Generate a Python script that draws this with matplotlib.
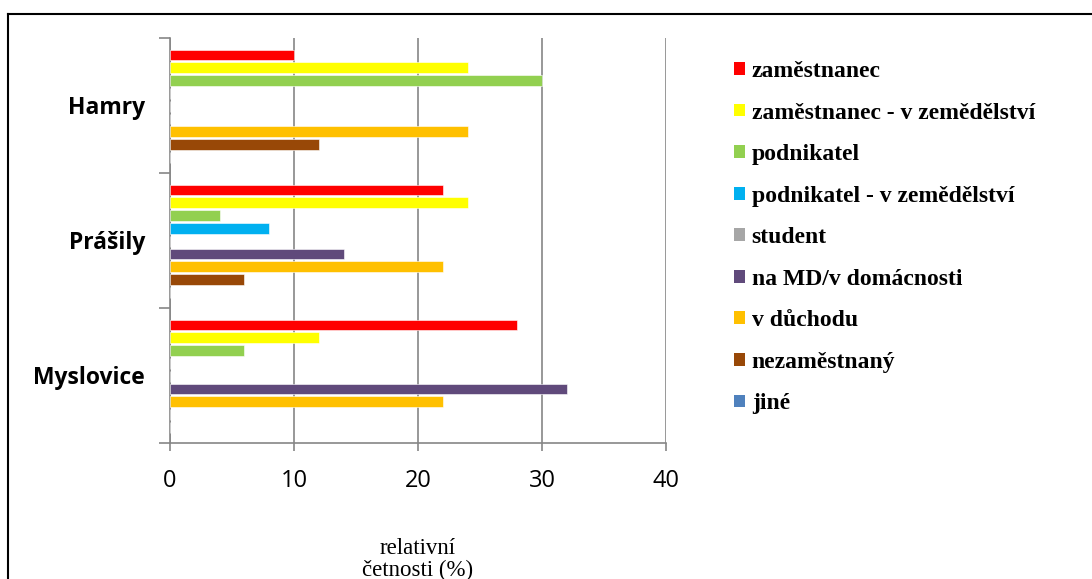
import numpy as np
import matplotlib.pyplot as plt
from matplotlib.patches import Patch
from matplotlib.lines import Line2D

# categories from bottom to top
places = ['Myslovice', 'Prášily', 'Hamry']

series = ['zaměstnanec', 'zaměstnanec - v zemědělství', 'podnikatel',
          'podnikatel - v zemědělství', 'student', 'na MD/v domácnosti',
          'v důchodu', 'nezaměstnaný', 'jiné']
colors = ['#FF0000', '#FFFF00', '#92D050', '#00B0F0', '#A6A6A6',
          '#604A7B', '#FFC000', '#984807', '#4F81BD']

# values per place (Myslovice, Prášily, Hamry)
zamestnanec = [28, 22, 10]
zamestnanec_zem = [12, 24, 24]
podnikatel = [6, 4, 30]
podnikatel_zem = [0, 8, 0]
student = [0, 0, 0]
na_md = [32, 14, 0]
v_duchodu = [22, 22, 24]
nezamestnany = [0, 6, 12]
jine = [0, 0, 0]

values = [zamestnanec, zamestnanec_zem, podnikatel, podnikatel_zem, student,
          na_md, v_duchodu, nezamestnany, jine]

fig = plt.figure(figsize=(10.92, 5.79), dpi=100)
ax = fig.add_axes([170 / 1092, 1 - 443 / 579, 496 / 1092, 405 / 579])

slot = 0.0948
bar_h = 0.08
y = np.arange(len(places))
for k, (vals, c) in enumerate(zip(values, colors)):
    off = 0.5 - 0.126 - k * slot
    ax.barh(y + off, vals, height=bar_h, color=c,
            edgecolor='white', linewidth=0.4, zorder=3)

ax.set_xlim(0, 40)
ax.set_ylim(-0.5, 2.5)
ax.set_xticks([0, 10, 20, 30, 40])
ax.set_yticks([-0.5, 0.5, 1.5, 2.5])
ax.set_yticklabels([])
ax.tick_params(axis='y', length=8, width=1.2, color='#868686', direction='out')
ax.tick_params(axis='x', length=6, width=1.2, color='#868686', direction='out',
               labelsize=17, pad=13)
for lab in ax.get_xticklabels():
    lab.set_fontfamily('Open Sans')
ax.xaxis.grid(True, color='#868686', linewidth=1.2, zorder=0)
for s in ['top', 'right']:
    ax.spines[s].set_visible(False)
for s in ['left', 'bottom']:
    ax.spines[s].set_color('#868686')
    ax.spines[s].set_linewidth(1.2)

for i, name in enumerate(places):
    ax.text(-2.0, i - 0.015, name, ha='right', va='center', fontsize=16.5,
            fontweight='bold', family='Open Sans')

fig.text(418 / 1092, 1 - 548 / 579, 'relativní', ha='center', va='center',
         fontsize=16.5, family='Liberation Serif')
fig.text(418 / 1092, 1 - 570 / 579, 'četnosti (%)', ha='center', va='center',
         fontsize=16.5, family='Liberation Serif')

handles = [Patch(facecolor=c, edgecolor='none') for c in colors]
fig.legend(handles, series, loc='upper left',
           bbox_to_anchor=(734 / 1092, 1 - 61 / 579), frameon=False,
           prop={'family': 'Liberation Serif', 'weight': 'bold', 'size': 17},
           handlelength=0.45, handleheight=0.45, handletextpad=0.3,
           labelspacing=0.87, borderpad=0, borderaxespad=0)

# frame around the chart (left and top only visible)
fig.add_artist(Line2D([8 / 1092, 8 / 1092], [0, 1 - 14 / 579], color='black',
                      linewidth=1.5, transform=fig.transFigure))
fig.add_artist(Line2D([8 / 1092, 1], [1 - 14 / 579, 1 - 14 / 579], color='black',
                      linewidth=1.5, transform=fig.transFigure))

fig.savefig('out.png', dpi=100)
